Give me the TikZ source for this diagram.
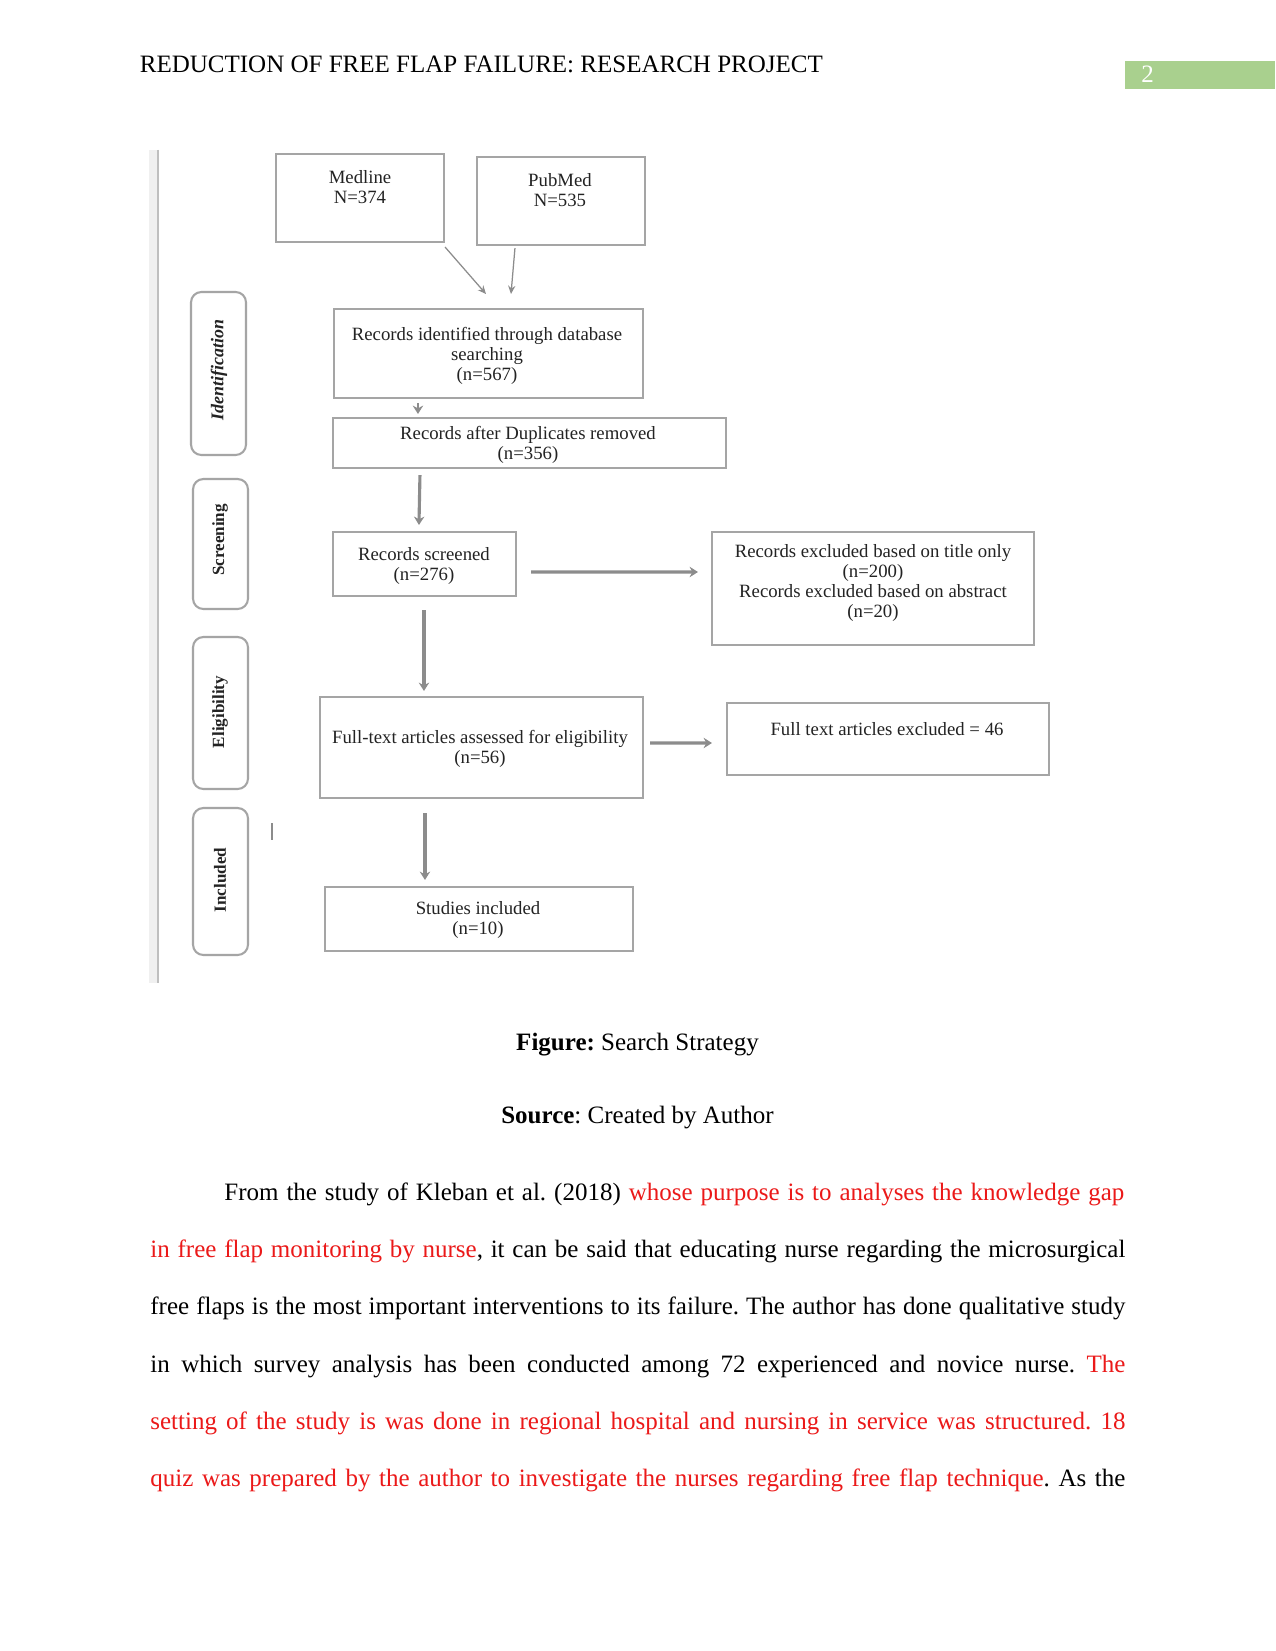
\documentclass[tikz,border=0pt]{standalone}
\usepackage{fontspec}
\setmainfont{Liberation Serif}
\usetikzlibrary{arrows.meta,calc,fit}
\definecolor{pgnum}{RGB}{169,208,142}
\definecolor{boxline}{RGB}{165,165,165}
\definecolor{arrgray}{RGB}{140,140,140}
\definecolor{txtred}{RGB}{235,25,25}
\definecolor{figtext}{RGB}{35,35,35}
\tikzset{
  box/.style={draw=boxline, line width=1pt, inner sep=0pt, fill=white},
  stage/.style={draw=boxline, line width=1pt, rounded corners=5pt, inner sep=0pt},
  ftxt/.style={align=center, inner sep=0pt, text=figtext, font=\fontsize{9pt}{9.6pt}\selectfont},
  stagetxt/.style={inner sep=0pt, rotate=90, text=figtext, font=\fontsize{8.2pt}{9pt}\selectfont\bfseries},
  thinarr/.style={draw=arrgray, line width=0.6pt, -{Stealth[length=4pt,width=3.5pt]}},
  arr/.style={draw=arrgray, line width=1.5pt, -{Stealth[length=4pt,width=5pt]}},
  body/.style={inner sep=0pt, anchor=base west, font=\fontsize{12pt}{14pt}\selectfont},
}
\frenchspacing
\begin{document}
\begin{tikzpicture}[x=0.48pt, y=-0.48pt]
\useasboundingbox (0,0) rectangle (1275,1651);
\fill[white] (0,0) rectangle (1275,1651);

% header
\node[body] (header) at (139.5,72.5) {REDUCTION OF FREE FLAP FAILURE: RESEARCH PROJECT};
\fill[pgnum] (1125,61) rectangle (1275,89);
\node[body, text=white] (pagenum) at (1141,83) {2};

% left band of the figure
\fill[black!6] (149,150) rectangle (158,983);
\draw[black!25, line width=1pt] (158,150) -- (158,983);

% stage labels
\node[stage, fit={(191,292) (246,455)}] (sid) {};
\node[stagetxt, font=\fontsize{8.6pt}{9pt}\selectfont\bfseries\itshape] (tid) at (219,370) {Identification};
\node[stage, fit={(193,479) (248,609)}] (ssc) {};
\node[stagetxt] (tsc) at (220,540) {Screening};
\node[stage, fit={(193,637) (248,789)}] (sel) {};
\node[stagetxt] (tel) at (220,712) {Eligibility};
\node[stage, fit={(193,808) (248,955)}] (sin) {};
\node[stagetxt] (tin) at (220,880) {Included};

% stray mark
\draw[black!45, line width=0.6pt] (272,823) -- (272,840);

% boxes (text nodes anchored at the baseline of their last line)
\node[box, fit={(276,154) (444,242)}] (medline) {};
\node[ftxt, anchor=base] at (360,204) {Medline\\N=374};
\node[box, fit={(477,157) (645,245)}] (pubmed) {};
\node[ftxt, anchor=base] at (560,207) {PubMed\\N=535};

\node[box, fit={(334,309) (643,398)}] (ident) {};
\node[ftxt, anchor=base] at (487,380) {Records identified through database\\searching\\(n=567)};

\node[box, fit={(333,418) (726,468)}] (dup) {};
\node[ftxt, anchor=base] at (528,459) {Records after Duplicates removed\\(n=356)};

\node[box, fit={(333,532) (516,596)}] (scr) {};
\node[ftxt, anchor=base] at (424,580) {Records screened\\(n=276)};

\node[box, fit={(712,532) (1034,645)}] (exc) {};
\node[ftxt, anchor=base] at (873,617) {Records excluded based on title only\\(n=200)\\Records excluded based on abstract\\(n=20)};

\node[box, fit={(320,697) (643,798)}] (full) {};
\node[ftxt, anchor=base] at (480,763) {Full-text articles assessed for eligibility\\(n=56)};

\node[box, fit={(727,703) (1049,775)}] (ftexc) {};
\node[ftxt, anchor=base] at (887,735) {Full text articles excluded = 46};

\node[box, fit={(325,887) (633,951)}] (stud) {};
\node[ftxt, anchor=base] at (478,934) {Studies included\\(n=10)};

% connectors
\coordinate (mid1) at (486,294);
\coordinate (mid2) at (511,294);
\draw[thinarr] ($(medline.south east)+(0,4)$) -- (mid1);
\draw[thinarr] ($(pubmed.south west)+(39,2)$) -- (mid2);
\draw[arr, line width=1.2pt] ($(ident.south west)+(85,4)$) -- ($(dup.north west)+(86,-3)$);
\draw[arr] ($(dup.south west)+(88,6)$) -- ($(scr.north west)+(87,-6)$);
\draw[arr] ($(scr.south west)+(92,13)$) -- ($(full.north west)+(105,-5)$);
\draw[arr] ($(scr.east)+(14,8)$) -- ($(exc.west)+(-13,-16.5)$);
\draw[arr] ($(full.east)+(6,-4.5)$) -- ($(ftexc.west)+(-14,4)$);
\draw[arr] ($(full.south west)+(106,14)$) -- ($(stud.north west)+(101,-6)$);

% captions
\node[body, anchor=base] (cap1) at (637.5,1050) {\textbf{Figure:} Search Strategy};
\node[body, anchor=base] (cap2) at (637.5,1123.5) {\textbf{Source}: Created by Author};

% paragraph
\node[body] (l1) at (224,1200) {\makebox[432pt][s]{From the study of Kleban et al. (2018) \textcolor{txtred}{whose purpose is to analyses the knowledge gap}}};
\node[body] (l2) at (150,1257.3) {\makebox[468pt][s]{\textcolor{txtred}{in free flap monitoring by nurse}, it can be said that educating nurse regarding the microsurgical}};
\node[body] (l3) at (150,1314.6) {\makebox[468pt][s]{free flaps is the most important interventions to its failure. The author has done qualitative study}};
\node[body] (l4) at (150,1372) {\makebox[468pt][s]{in which survey analysis has been conducted among 72 experienced and novice nurse. \textcolor{txtred}{The}}};
\node[body] (l5) at (150,1429.4) {\makebox[468pt][s]{\textcolor{txtred}{setting of the study is was done in regional hospital and nursing in service was structured. 18}}};
\node[body] (l6) at (150,1486.8) {\makebox[468pt][s]{\textcolor{txtred}{quiz was prepared by the author to investigate the nurses regarding free flap technique}. As the}};
\end{tikzpicture}
\end{document}
